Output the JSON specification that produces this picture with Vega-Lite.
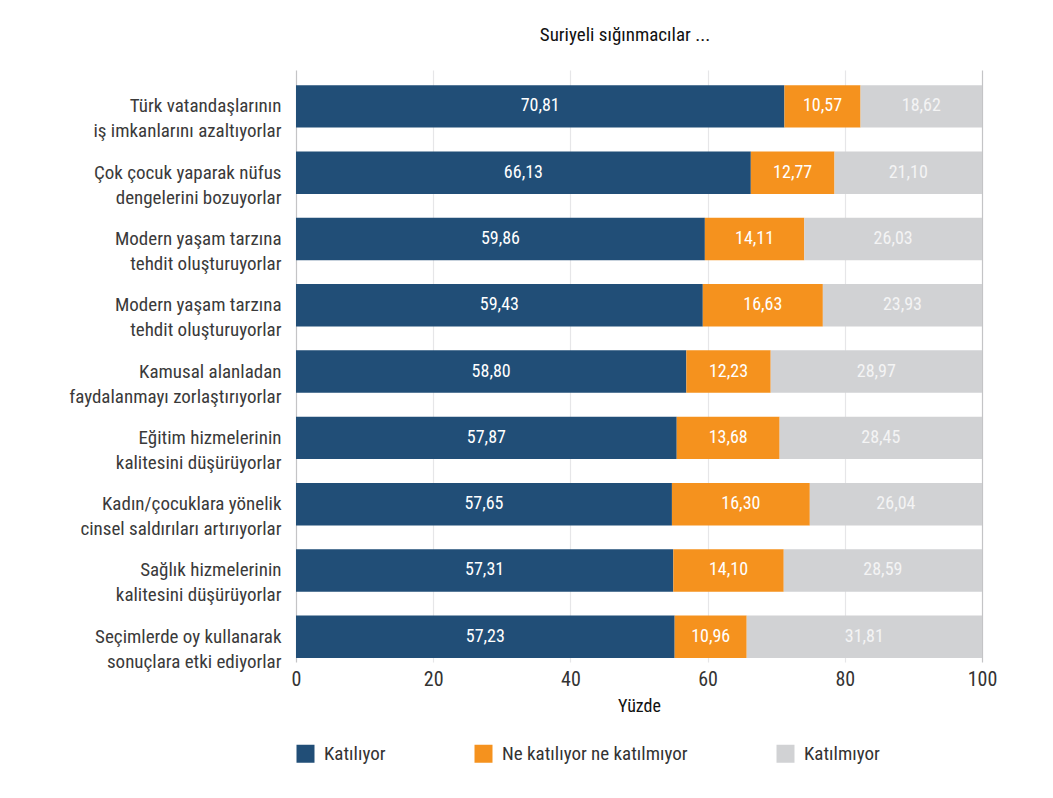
{
  "$schema": "https://vega.github.io/schema/vega-lite/v6.json",
  "width": 686,
  "height": 592,
  "autosize": "none",
  "padding": {"left": 296, "top": 70, "right": 71, "bottom": 136},
  "background": "white",
  "config": {
    "font": "Liberation Sans Narrow, Roboto Condensed, Liberation Sans, sans-serif",
    "view": {"stroke": null}
  },
  "title": {
    "text": "Suriyeli sığınmacılar ...",
    "fontSize": 19,
    "fontWeight": "normal",
    "color": "#111111",
    "anchor": "middle",
    "dx": -14,
    "baseline": "bottom",
    "offset": 6
  },
  "data": {
    "values": [
      {"item": "Türk vatandaşlarının|iş imkanlarını azaltıyorlar", "order": 1, "cat": "Katılıyor", "k": 1, "value": 71.2, "label": "70,81"},
      {"item": "Türk vatandaşlarının|iş imkanlarını azaltıyorlar", "order": 1, "cat": "Ne katılıyor ne katılmıyor", "k": 2, "value": 11.1, "label": "10,57"},
      {"item": "Türk vatandaşlarının|iş imkanlarını azaltıyorlar", "order": 1, "cat": "Katılmıyor", "k": 3, "value": 17.7, "label": "18,62"},
      {"item": "Çok çocuk yaparak nüfus|dengelerini bozuyorlar", "order": 2, "cat": "Katılıyor", "k": 1, "value": 66.3, "label": "66,13"},
      {"item": "Çok çocuk yaparak nüfus|dengelerini bozuyorlar", "order": 2, "cat": "Ne katılıyor ne katılmıyor", "k": 2, "value": 12.2, "label": "12,77"},
      {"item": "Çok çocuk yaparak nüfus|dengelerini bozuyorlar", "order": 2, "cat": "Katılmıyor", "k": 3, "value": 21.5, "label": "21,10"},
      {"item": "Modern yaşam tarzına|tehdit oluşturuyorlar", "order": 3, "cat": "Katılıyor", "k": 1, "value": 59.6, "label": "59,86"},
      {"item": "Modern yaşam tarzına|tehdit oluşturuyorlar", "order": 3, "cat": "Ne katılıyor ne katılmıyor", "k": 2, "value": 14.5, "label": "14,11"},
      {"item": "Modern yaşam tarzına|tehdit oluşturuyorlar", "order": 3, "cat": "Katılmıyor", "k": 3, "value": 25.9, "label": "26,03"},
      {"item": "Modern yaşam tarzına|tehdit oluşturuyorlar ", "order": 4, "cat": "Katılıyor", "k": 1, "value": 59.3, "label": "59,43"},
      {"item": "Modern yaşam tarzına|tehdit oluşturuyorlar ", "order": 4, "cat": "Ne katılıyor ne katılmıyor", "k": 2, "value": 17.5, "label": "16,63"},
      {"item": "Modern yaşam tarzına|tehdit oluşturuyorlar ", "order": 4, "cat": "Katılmıyor", "k": 3, "value": 23.2, "label": "23,93"},
      {"item": "Kamusal alanladan|faydalanmayı zorlaştırıyorlar", "order": 5, "cat": "Katılıyor", "k": 1, "value": 56.9, "label": "58,80"},
      {"item": "Kamusal alanladan|faydalanmayı zorlaştırıyorlar", "order": 5, "cat": "Ne katılıyor ne katılmıyor", "k": 2, "value": 12.3, "label": "12,23"},
      {"item": "Kamusal alanladan|faydalanmayı zorlaştırıyorlar", "order": 5, "cat": "Katılmıyor", "k": 3, "value": 30.8, "label": "28,97"},
      {"item": "Eğitim hizmelerinin|kalitesini düşürüyorlar", "order": 6, "cat": "Katılıyor", "k": 1, "value": 55.5, "label": "57,87"},
      {"item": "Eğitim hizmelerinin|kalitesini düşürüyorlar", "order": 6, "cat": "Ne katılıyor ne katılmıyor", "k": 2, "value": 15.0, "label": "13,68"},
      {"item": "Eğitim hizmelerinin|kalitesini düşürüyorlar", "order": 6, "cat": "Katılmıyor", "k": 3, "value": 29.5, "label": "28,45"},
      {"item": "Kadın/çocuklara yönelik|cinsel saldırıları artırıyorlar", "order": 7, "cat": "Katılıyor", "k": 1, "value": 54.8, "label": "57,65"},
      {"item": "Kadın/çocuklara yönelik|cinsel saldırıları artırıyorlar", "order": 7, "cat": "Ne katılıyor ne katılmıyor", "k": 2, "value": 20.1, "label": "16,30"},
      {"item": "Kadın/çocuklara yönelik|cinsel saldırıları artırıyorlar", "order": 7, "cat": "Katılmıyor", "k": 3, "value": 25.1, "label": "26,04"},
      {"item": "Sağlık hizmelerinin|kalitesini düşürüyorlar", "order": 8, "cat": "Katılıyor", "k": 1, "value": 55.0, "label": "57,31"},
      {"item": "Sağlık hizmelerinin|kalitesini düşürüyorlar", "order": 8, "cat": "Ne katılıyor ne katılmıyor", "k": 2, "value": 16.1, "label": "14,10"},
      {"item": "Sağlık hizmelerinin|kalitesini düşürüyorlar", "order": 8, "cat": "Katılmıyor", "k": 3, "value": 28.9, "label": "28,59"},
      {"item": "Seçimlerde oy kullanarak|sonuçlara etki ediyorlar", "order": 9, "cat": "Katılıyor", "k": 1, "value": 55.2, "label": "57,23"},
      {"item": "Seçimlerde oy kullanarak|sonuçlara etki ediyorlar", "order": 9, "cat": "Ne katılıyor ne katılmıyor", "k": 2, "value": 10.5, "label": "10,96"},
      {"item": "Seçimlerde oy kullanarak|sonuçlara etki ediyorlar", "order": 9, "cat": "Katılmıyor", "k": 3, "value": 34.3, "label": "31,81"}
    ]
  },
  "transform": [
    {"stack": "value", "groupby": ["item"], "sort": [{"field": "k", "order": "ascending"}], "as": ["x0", "x1"]}
  ],
  "encoding": {
    "y": {
      "field": "item",
      "type": "nominal",
      "sort": {"field": "order", "op": "min", "order": "ascending"},
      "scale": {"paddingInner": 0.36, "paddingOuter": 0.145, "align": 0.79},
      "axis": {
        "title": null,
        "domain": false,
        "ticks": false,
        "labelPadding": 15,
        "labelFontSize": 19,
        "labelColor": "#3a3a3a",
        "labelLineHeight": 25,
        "labelLimit": 300,
        "labelAlign": "right",
        "labelBaseline": "middle",
        "labelExpr": "split(trim(datum.value), '|')"
      }
    }
  },
  "layer": [
    {
      "mark": {"type": "bar", "strokeWidth": 0},
      "encoding": {
        "x": {
          "field": "x0",
          "type": "quantitative",
          "scale": {"domain": [0, 100], "nice": false},
          "axis": {
            "title": "Yüzde",
            "values": [0, 20, 40, 60, 80, 100],
            "grid": true,
            "gridColor": {"condition": {"test": "datum.value === 0 || datum.value === 100", "value": "#c4c4c6"}, "value": "#e6e6e8"},
            "gridWidth": 1.2,
            "ticks": false,
            "domain": false,
            "labelFlush": false,
            "labelFontSize": 20,
            "labelColor": "#333333",
            "labelPadding": 7,
            "titleFontSize": 18,
            "titleFontWeight": "normal",
            "titleColor": "#111111",
            "titlePadding": 8
          }
        },
        "x2": {"field": "x1"},
        "color": {
          "field": "cat",
          "type": "nominal",
          "scale": {
            "domain": ["Katılıyor", "Ne katılıyor ne katılmıyor", "Katılmıyor"],
            "range": ["#214e77", "#f5921e", "#d1d2d4"]
          },
          "legend": {
            "orient": "none",
            "legendX": 0,
            "legendY": 674,
            "direction": "horizontal",
            "columns": 3,
            "columnPadding": 88,
            "title": null,
            "symbolType": "square",
            "symbolSize": 324,
            "symbolStrokeWidth": 0,
            "labelFontSize": 19,
            "labelColor": "#333333",
            "labelOffset": 9,
            "labelLimit": 300
          }
        }
      }
    },
    {
      "transform": [{"fold": ["x0", "x1"], "as": ["edge", "pos"]}],
      "mark": {"type": "text", "fontSize": 18, "align": "center", "baseline": "middle"},
      "encoding": {
        "x": {"aggregate": "mean", "field": "pos", "type": "quantitative", "stack": null},
        "text": {"field": "label", "type": "nominal"},
        "detail": {"field": "cat", "type": "nominal"},
        "fill": {"condition": {"test": "datum.cat === 'Katılmıyor'", "value": "#f4f4f4"}, "value": "#ffffff"}
      }
    }
  ]
}
